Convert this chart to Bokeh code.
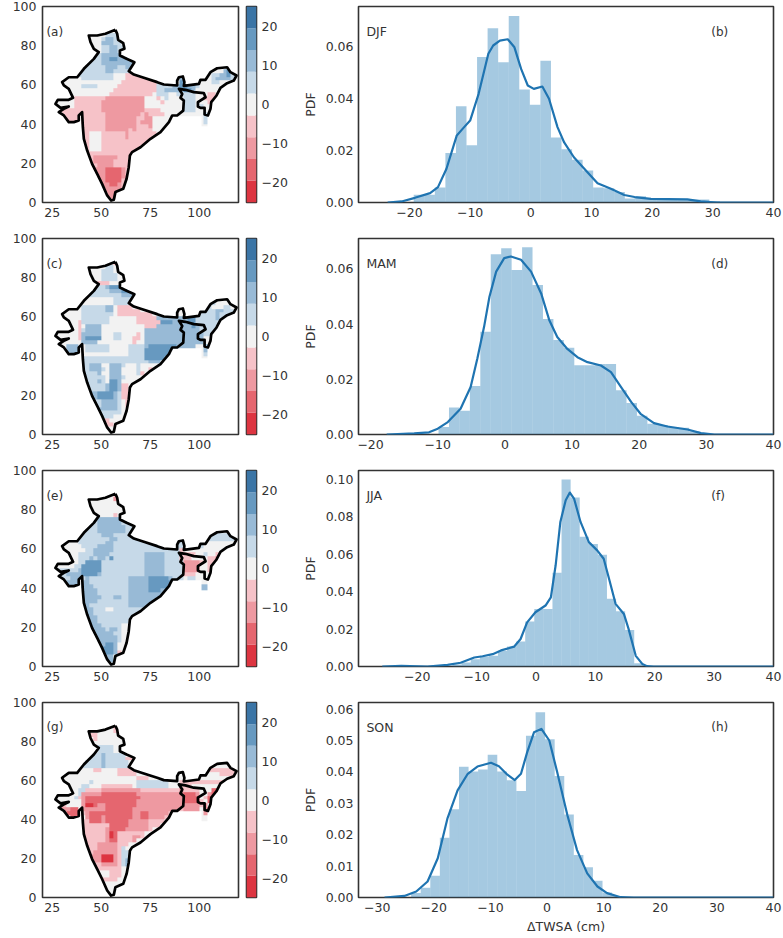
import numpy as np
from bokeh.plotting import figure
from bokeh.layouts import column, row
from bokeh.models import Range1d, FixedTicker, Label, LinearColorMapper, LinearAxis
from bokeh.embed import file_html
from bokeh.resources import INLINE

# ---- colour levels
LEVEL_EDGES = [-25, -19.44, -13.89, -8.33, -2.78, 2.78, 8.33, 13.89, 19.44, 25]
PALETTE = ["#dd3541", "#e5666f", "#ee99a1", "#f6c2c8", "#f2f2f2", "#c6d9e8", "#98bad6", "#6799c0", "#3b75a6"]
LEVEL_VALUE = {"d": -22.2, "c": -16.7, "b": -11.1, "a": -5.6, ".": 0, "1": 5.6, "2": 11.1, "3": 16.7, "4": 22.2}

# ---- country outline (x, y in axis units)
OUT_X = [57.2,58.1,58.6,61.2,61.8,59.5,59.5,62.9,66.9,64.0,66.6,71.7,78.5,81.9,88.7,88.7,89.6,91.6,92.4,92.1,99.8,100.6,103.2,105.7,109.1,114.2,115.9,119.0,117.6,114.2,110.8,108.8,106.1,105.7,104.4,102.7,102.7,100.6,99.3,99.3,103.2,102.3,97.2,92.9,89.6,91.3,90.4,92.1,91.8,88.7,86.2,84.5,80.2,75.1,70.0,65.7,64.6,64.0,62.9,61.2,57.2,56.4,55.0,53.0,50.4,47.9,45.3,42.8,41.1,40.6,40.2,38.5,38.5,36.0,33.4,30.9,28.3,30.9,33.4,29.2,26.6,27.8,33.4,35.6,33.4,30.9,30.0,33.4,37.7,41.1,46.2,48.7,46.2,44.5,43.6,47.9,52.1,57.2]
OUT_Y = [88.1,86.1,83.0,81.3,78.4,77.6,75.0,73.3,71.6,67.0,65.3,63.6,61.4,60.2,59.7,62.2,63.9,64.3,61.4,59.5,60.5,62.6,62.6,66.5,68.5,69.0,66.5,64.8,62.2,60.9,58.5,54.6,51.2,47.8,44.4,44.9,48.3,48.3,49.0,51.2,53.7,55.8,56.3,57.5,58.0,55.4,53.4,52.0,46.9,44.4,44.4,41.0,35.9,32.5,28.2,25.7,24.0,18.0,12.1,7.0,5.3,1.4,1.0,3.6,9.5,14.6,19.7,26.5,32.5,38.4,46.1,44.4,41.8,41.0,41.0,44.4,46.1,47.8,49.0,48.3,50.3,52.4,52.4,53.4,58.0,59.7,61.4,63.9,63.9,68.2,73.3,76.7,78.4,81.8,85.2,85.2,86.1,88.1]
# the gridded field also covers the area enclosed by the eastern loop of the outline
EXTRA_X = [89.6,92.9,97.2,102.3,103.2,99.3,99.3,100.6,102.7,102.7,104.0,104.0,101.5,101.5,92.0,88.7]
EXTRA_Y = [58.0,57.5,56.3,55.8,53.7,51.2,49.0,48.3,48.3,44.9,44.0,39.5,39.5,44.0,44.0,44.4]

# ---- seasonal maps: one text per 2-unit row from y=90 down, "col:level" starts a run
MAP_A = ["", "", "13:1 16:.", "12:1 13:2 15:1 16:.", "12:2 15:1 17:.", "12:1 14:2 16:1 18:.", "12:1 14:2 16:1 18:.",
 "11:1 12:2 17:1 18:.", "10:1 12:2 14:3 16:2 19:1", "8:1 12:2 20:1", "7:1 13:2 16:1 18:2 20:.", "6:1 13:2 15:1 20:. 43:2 44:3 45:1",
 "5:1 15:. 18:a 23:. 40:1 42:2 44:3 45:1", "7:1 15:. 18:a 24:. 32:2 33:. 40:1 41:2 45:1 46:.", "7:. 14:. 17:a 26:. 32:3 33:. 40:1 42:.",
 "7:1 11:. 16:a 26:1 30:2 32:3 34:2 36:1 37:.", "15:a 26:1 28:2 33:3 35:2 36:.", "14:a 25:. 26:1 29:. 31:1 36:. 39:a 41:.",
 "5:a 13:b 23:. 26:a 27:. 28:1 29:. 33:1 36:. 38:a 41:.", "5:a 12:b 23:. 27:a 28:. 33:1 36:. 39:a 40:.", "5:a 12:b 23:. 33:1 36:. 37:1 38:.",
 "1:a 12:b 23:a 27:. 33:1 36:.", "2:a 13:b 22:a 23:b 24:a 28:. 38:1 39:.", "2:a 13:b 21:a 23:b 25:. 38:1 39:.", "2:a 13:b 21:a 22:b 25:. 38:1 39:.",
 "7:a 13:b 21:a 24:b 25:.", "8:a 13:b 19:a 20:b 21:a 25:.", "8:a 9:. 12:a 18:b 19:a 26:.", "8:a 9:. 12:a 18:b 19:a 25:.", "8:a 9:. 12:a 24:.",
 "8:a 9:. 12:a 23:.", "8:a 9:. 12:a 22:.", "8:a 20:.", "9:a 10:b 16:a 20:.", "9:a 10:b 15:a", "10:a 11:b 15:a", "11:b 13:c 17:b 18:a",
 "11:b 13:c 17:b 18:a", "12:b 13:c 17:b", "12:b 13:c 17:a", "13:b 14:c 16:b 17:a", "13:b 17:a", "14:b 17:a", "14:b 17:a", "15:b"]
MAP_C = ["", "14:. 15:a 16:.", "13:1 15:. 16:a", "12:1 15:.", "12:1 16:.", "12:1 16:.", "10:. 11:a 14:.", "11:1 13:2 14:3 17:1 19:.",
 "9:1 14:2 17:3 19:2 20:1", "9:1 17:2 20:1", "8:. 15:1 20:.", "15:1 19:. 39:1 41:.", "7:1 13:2 15:. 16:a 20:. 38:1 40:. 43:1 45:.",
 "7:1 13:2 15:. 16:a 22:. 38:1 41:2 43:1", "7:1 15:. 16:a 25:. 33:2 34:1 38:1 41:2 42:1", "7:1 14:. 21:a 26:2 32:2 34:3 36:1 41:2 42:1 45:.",
 "6:a 7:1 14:. 21:a 27:3 30:2 33:2 34:3 36:1", "6:a 7:. 8:2 12:. 23:a 26:2 35:3 36:2 37:1", "6:a 7:1 8:2 12:. 23:2 37:1 41:.",
 "6:a 7:2 12:. 15:1 17:. 21:a 22:. 23:2 38:1 40:.", "6:a 7:2 8:3 12:. 15:1 17:. 20:a 22:. 23:2 38:.", "7:2 11:. 20:a 21:. 23:2 38:.",
 "3:2 6:. 8:1 14:. 19:1 23:2 24:3 31:2 36:. 38:2 40:.", "3:2 6:. 8:1 14:. 19:1 23:3 31:2 33:. 38:2", "4:2 6:. 11:. 19:1 23:3 29:2 30:. 38:1 39:.",
 "19:1 23:3 28:2 29:.", "19:1 24:2 27:.", "7:1 9:2 12:. 14:2 17:1 18:. 21:1 22:.", "8:1 9:2 12:1 13:. 14:2 17:. 21:1 22:. 24:a 25:.",
 "8:1 11:2 12:. 14:2 17:. 21:1 22:a 23:.", "8:1 13:. 14:2 17:1 18:.", "8:1 11:2 12:1 13:. 14:3 16:2 17:.", "9:1 13:2 14:3 16:2 17:a 19:.",
 "10:1 13:2 14:3 16:2 17:a 19:.", "10:2 11:3 15:2 16:1 17:a 19:.", "10:2 11:3 15:2 16:1 17:a 19:.", "11:1 12:2 16:1 17:. 18:a", "11:1 12:2 16:1 17:. 18:a",
 "12:2 16:1 17:.", "12:1 16:1 17:.", "13:1 15:.", "13:a 14:.", "14:a 15:.", "", ""]
MAP_E = ["", "15:a 16:.", "15:b 16:.", "", "", "", "15:a 16:.", "10:1 11:2 17:1 18:.", "10:1 11:2 17:1 19:.", "9:1 11:2 18:1 20:.", "8:1 11:2 18:1 20:.",
 "7:1 12:2 15:1", "6:1 14:2 16:1", "6:1 13:2 15:1 38:.", "7:1 11:2 15:1 38:.", "8:1 10:2 15:1 32:a 33:.", "6:1 10:2 14:1 23:2 28:1 32:a 36:. 38:1 39:. 41:a 44:.",
 "6:1 9:2 10:1 11:2 13:1 14:3 15:1 23:2 28:1 32:a 35:. 39:a 41:b 42:a 43:.", "6:1 8:3 12:1 23:2 28:1 33:b 37:a 38:. 39:a 41:b 42:.",
 "5:1 7:3 12:1 23:2 28:1 33:b 37:. 39:a 40:b 41:.", "1:1 6:2 7:3 12:1 23:2 28:1 33:b 37:. 39:a 40:.", "1:1 3:2 7:3 11:2 12:1 23:2 28:1 33:a 36:.",
 "2:1 4:2 7:1 8:2 9:1 19:2 24:3 29:2 30:1 33:. 34:1 36:.", "3:2 8:2 9:1 19:2 24:3 30:2 31:1 32:.", "3:2 8:2 10:1 19:2 24:3 30:2", "7:2 11:1 19:2 24:3 27:2",
 "7:2 11:1 19:2 26:2", "7:2 12:1 15:2 17:1 19:2", "7:2 11:1 19:2", "7:2 9:1 19:2", "8:2 10:1 13:. 15:1", "8:2 10:1", "8:2 11:1",
 "9:2 11:1 19:.", "9:2 12:1 17:.", "10:2 13:1 14:2 16:1 17:.", "10:2 15:1 17:.", "11:2 16:1 17:.", "12:2 16:1 17:.", "12:2 13:3 15:2 16:.", "13:3 15:2 16:.",
 "13:3 15:2 16:a 17:.", "14:2 15:. 16:a", "14:2 15:.", ""]
MAP_G = ["", "15:a 16:.", "15:a 16:.", "9:a 11:.", "10:a 11:.", "", "11:1 15:.", "11:1 15:.", "10:1 12:2 13:1 18:.", "9:1 12:2 13:1 18:a 20:.", "8:1 12:2 13:1 19:.",
 "7:1 12:2 13:1 19:.", "10:a 12:. 16:a", "16:a 21:. 42:a 46:.", "21:a 24:.", "9:1 10:. 21:1 29:. 32:a", "7:1 9:. 12:a 20:. 21:1 29:. 32:a 35:.",
 "6:1 8:a 12:b 22:a 32:b 33:a 37:. 40:c 42:.", "6:1 7:b 12:c 21:b 33:c 36:b 37:. 39:b 40:c 41:.", "5:1 6:a 7:b 8:c 22:b 33:c 37:. 38:a 39:c 40:.",
 "7:b 8:c 21:b 33:c 37:a 38:. 39:c 40:.", "1:a 3:. 7:b 8:d 10:c 11:b 13:c 21:b 37:a 38:b 39:.", "1:b 4:c 6:. 7:b 13:c 20:b 32:a 33:b 37:. 38:b 40:.",
 "3:c 6:. 7:a 8:b 9:c 13:c 20:b 22:c 24:b 29:a 30:. 38:b 39:.", "4:c 6:. 8:b 9:c 12:b 13:c 20:b 22:c 24:b 28:a 29:.", "7:a 9:c 12:b 13:c 19:b 24:a 28:.",
 "7:a 14:c 19:b 24:a 27:.", "7:a 13:b 14:c 18:b 24:a 25:.", "7:a 13:b 14:d 15:c 16:a 23:.", "7:a 13:b 14:d 15:c 16:a 20:b 22:a 23:.", "8:a 13:b 14:c 16:a 20:b 21:.",
 "8:a 11:b 16:a 19:.", "8:a 11:b 16:a 17:1 18:.", "9:a 10:b 16:a 17:1 19:.", "9:b 12:d 15:b 16:a 17:1 19:.", "10:b 12:d 15:b 16:a 17:1 18:2 19:.",
 "10:a 12:b 16:a 17:1 18:2 19:.", "11:a 17:.", "12:. 14:a 17:.", "13:. 14:a 17:.", "14:a 16:.", "", "", "", ""]

# ---- histograms and density curves
B_START, B_WIDTH = -19.3, 1.74
B_BARS = [.003,.003,.0058,.019,.037,.022,.056,.067,.054,.0717,.0435,.0376,.0545,.025,.0205,.0164,.0123,.0058,.0055,.004,.0015,.0024,.0013,.0011,.0011,.0012,.0012,.0012,.0005,.0002]
B_KX = [-23.6,-21.3,-19.1,-16.6,-15.3,-13.9,-12.2,-11.1,-10,-8.6,-7,-6.2,-5.1,-3.8,-2.7,-1.6,-.5,.5,1.9,3,4.4,5.5,7.1,9.3,11,13.2,15.4,17.1,19.8,22.5,25.8,28,30.7,40]
B_KY = [0,.0004,.0018,.0036,.0059,.013,.0258,.0287,.0315,.0418,.0572,.0604,.0623,.0628,.0597,.0514,.045,.0437,.0446,.0399,.029,.0231,.0174,.0117,.0074,.0053,.0029,.0021,.0014,.0013,.0012,.0004,0,0]
D_START, D_WIDTH = -9.88, 1.555
D_BARS = [.0027,.0098,.0086,.0176,.0372,.0653,.0675,.0596,.0678,.0542,.0418,.0342,.0314,.0251,.0251,.0255,.0255,.016,.0114,.0068,.0039,.0034,.0027,.0024,.0012,.0005]
D_KX = [-17.6,-13.5,-11.3,-10,-8.5,-6.6,-5.1,-4.1,-3.1,-2.3,-1.3,-.1,.9,2.4,3.9,5.4,6.6,7.8,9.3,10.8,12.3,14.3,15.8,17.3,18.8,20.2,22.2,24.2,27.2,29.2,31.2,40]
D_KY = [0,.0004,.0008,.0021,.0045,.0093,.0172,.0275,.039,.0499,.059,.0639,.0645,.0633,.059,.0511,.0415,.0353,.031,.028,.0262,.025,.0226,.0172,.0118,.0075,.0041,.0029,.0018,.0005,0,0]
F_START, F_WIDTH = -14.06, 1.53
F_BARS = [.0011,.0021,.0039,.0052,.0057,.0084,.0107,.0134,.024,.0308,.0308,.0501,.1,.0903,.0694,.0655,.0597,.0362,.0295,.0195,.0018,.0002]
F_KX = [-25.9,-22.7,-18.3,-14.9,-12.7,-10.4,-9,-7.3,-5.9,-3.7,-2.6,-1.5,-.1,1.6,2.5,3.3,4.1,5,5.7,6.4,7.5,8.9,10.3,11.4,12.3,13.4,14.8,15.6,16.8,17.9,18.7,19.8,40]
F_KY = [0,.0003,0,.0009,.002,.0048,.0055,.0066,.0086,.0106,.0147,.0236,.029,.0326,.037,.054,.0773,.0889,.093,.0898,.0773,.0665,.0621,.0576,.0469,.0335,.0281,.02,.0057,.0014,.0002,0,0]
H_START, H_WIDTH = -24.0, 1.69
H_BARS = [.0014,.0031,.0069,.019,.0281,.0416,.0401,.0408,.0455,.0401,.0373,.0339,.0515,.059,.0504,.0387,.0264,.0135,.0096,.0053,.0016,.0005]
H_KX = [-28.7,-25.2,-23.1,-21.1,-19.3,-17.6,-15.8,-14,-12.3,-9.9,-8.5,-7,-5.7,-4.6,-3.5,-2.3,-1,.4,1.8,3.6,5.3,7.1,8.9,10.6,13,15.3,40]
H_KY = [0,.0005,.0019,.0051,.0125,.0251,.0341,.0394,.0417,.0429,.0418,.0391,.0374,.0394,.0463,.0526,.0537,.05,.0399,.0262,.0151,.0077,.0035,.0014,.0001,0,0]

SEASONS = ["DJF", "MAM", "JJA", "SON"]
MAP_TAGS = ["(a)", "(c)", "(e)", "(g)"]
HIST_TAGS = ["(b)", "(d)", "(f)", "(h)"]
XLIMS = [(-28.4, 40), (-21.8, 40), (-29.9, 40), (-33.3, 40)]
YLIMS = [0.0754, 0.071, 0.1048, 0.0621]
XTICKS = [[-20,-10,0,10,20,30,40], [-20,-10,0,10,20,30,40], [-20,-10,0,10,20,30,40], [-30,-20,-10,0,10,20,30,40]]
YTICKS = [[0,.02,.04,.06], [0,.02,.04,.06], [0,.02,.04,.06,.08,.1], [0,.01,.02,.03,.04,.05,.06]]

FONT = "DejaVu Sans"
TXT = "#333333"
FS = "12.5px"
FRAME = "#333333"


def style(p):
    p.grid.visible = False
    p.outline_line_color = FRAME
    p.outline_line_width = 1.6
    p.background_fill_color = "white"
    p.border_fill_color = None
    for ax in list(p.xaxis) + list(p.yaxis):
        ax.axis_line_color = None
        ax.major_tick_line_color = None
        ax.minor_tick_line_color = None
        ax.major_tick_in = 0
        ax.major_tick_out = 0
        ax.major_label_text_font = FONT
        ax.major_label_text_font_size = FS
        ax.major_label_text_color = TXT
        ax.axis_label_text_font = FONT
        ax.axis_label_text_font_size = FS
        ax.axis_label_text_font_style = "normal"
        ax.axis_label_text_color = TXT
        ax.major_label_standoff = 5


def minus(v):
    return str(v).replace("-", "\u2212")


def inside(px, py, vx, vy):
    hit = np.zeros(px.shape, dtype=bool)
    n = len(vx)
    j = n - 1
    for i in range(n):
        c = ((vy[i] > py) != (vy[j] > py)) & (px < (vx[j] - vx[i]) * (py - vy[i]) / (vy[j] - vy[i] + 1e-12) + vx[i])
        hit ^= c
        j = i
    return hit


def grid_of(rows):
    arr = np.zeros((90, 94))
    for r in range(45):
        text = rows[r] if r < len(rows) else ""
        vals = np.zeros(47)
        toks = text.split()
        if r >= 25 and toks:
            vals[:] = LEVEL_VALUE[toks[0].split(":")[1]]
        for tok in toks:
            c, v = tok.split(":")
            vals[int(c):] = LEVEL_VALUE[v]
        y0 = 88 - 2 * r
        arr[y0:y0 + 2, :] = np.repeat(vals, 2)
    xs, ys = np.meshgrid(26.5 + np.arange(94), 0.5 + np.arange(90))
    keep = inside(xs, ys, np.array(OUT_X), np.array(OUT_Y)) | inside(xs, ys, np.array(EXTRA_X), np.array(EXTRA_Y))
    arr[~keep] = np.nan
    return arr


mapper = LinearColorMapper(palette=PALETTE, low=-25, high=25, nan_color="rgba(255,255,255,0)")


def borders(i):
    top = 6 if i == 0 else 8
    bottom = 38 if i == 3 else 28
    return top, bottom, top + 196 + bottom


def map_panel(rows, tag, i):
    top, bottom, h = borders(i)
    p = figure(width=242, height=h, min_border_left=42, min_border_right=4, min_border_top=top,
               min_border_bottom=bottom, x_range=Range1d(20, 120), y_range=Range1d(0, 100),
               output_backend="svg", toolbar_location=None)
    p.image(image=[grid_of(rows)], x=26, y=0, dw=94, dh=90, color_mapper=mapper)
    p.line(OUT_X, OUT_Y, line_color="black", line_width=2.7, line_join="round")
    style(p)
    p.xaxis.ticker = FixedTicker(ticks=[25, 50, 75, 100])
    p.yaxis.ticker = FixedTicker(ticks=[0, 20, 40, 60, 80, 100])
    p.yaxis.major_label_standoff = 6
    p.add_layout(Label(x=22.0, y=87.2, text=tag, text_font=FONT, text_font_size="12px", text_color=TXT, text_baseline="middle"))
    return p


def colorbar_panel(i):
    top, bottom, h = borders(i)
    p = figure(width=57, height=h, min_border_left=4, min_border_right=43, min_border_top=top,
               min_border_bottom=bottom, x_range=Range1d(0, 1), y_range=Range1d(-25, 25),
               output_backend="svg", toolbar_location=None)
    p.quad(left=0, right=1, bottom=LEVEL_EDGES[:-1], top=LEVEL_EDGES[1:], fill_color=PALETTE, line_color=None)
    style(p)
    p.xaxis.visible = False
    p.yaxis.visible = False
    right = LinearAxis(ticker=FixedTicker(ticks=[-20, -10, 0, 10, 20]),
                       major_label_overrides={t: minus(t) for t in [-20, -10, 0, 10, 20]},
                       axis_line_color=None, major_tick_line_color=None, minor_tick_line_color=None,
                       major_tick_in=0, major_tick_out=0, major_label_standoff=5,
                       major_label_text_font=FONT, major_label_text_font_size=FS, major_label_text_color=TXT)
    p.add_layout(right, "right")
    p.min_border_right = 43
    return p


def hist_panel(i, start, width, bars, kx, ky):
    top, bottom, h = borders(i)
    x0, x1 = XLIMS[i]
    p = figure(width=484, height=h, min_border_left=58, min_border_right=10, min_border_top=top,
               min_border_bottom=bottom, x_range=Range1d(x0, x1), y_range=Range1d(0, YLIMS[i]),
               output_backend="svg", toolbar_location=None)
    left = start + width * np.arange(len(bars))
    p.quad(left=left, right=left + width, bottom=0, top=bars, fill_color="#1f77b4", fill_alpha=0.4, line_color=None)
    p.line(kx, ky, line_color="#1f74b1", line_width=2.2, line_join="round")
    style(p)
    p.xaxis.ticker = FixedTicker(ticks=XTICKS[i])
    p.xaxis.major_label_overrides = {t: minus(t) for t in XTICKS[i]}
    p.yaxis.ticker = FixedTicker(ticks=YTICKS[i])
    p.yaxis.major_label_overrides = {t: f"{t:.2f}" for t in YTICKS[i]}
    p.yaxis.axis_label = "PDF"
    p.yaxis.axis_label_standoff = 5
    if i == 3:
        p.xaxis.axis_label = "\u0394TWSA (cm)"
        p.xaxis.axis_label_standoff = 4
    y = YLIMS[i] * 0.872
    for frac, t in ((0.019, SEASONS[i]), (0.85, HIST_TAGS[i])):
        p.add_layout(Label(x=x0 + frac * (x1 - x0), y=y, text=t, text_font=FONT, text_font_size="12.5px" if frac < .5 else "12px",
                           text_color=TXT, text_baseline="middle"))
    return p


maps = [MAP_A, MAP_C, MAP_E, MAP_G]
hists = [(B_START, B_WIDTH, B_BARS, B_KX, B_KY), (D_START, D_WIDTH, D_BARS, D_KX, D_KY),
         (F_START, F_WIDTH, F_BARS, F_KX, F_KY), (H_START, H_WIDTH, H_BARS, H_KX, H_KY)]
rows = []
for i in range(4):
    rows.append(row(map_panel(maps[i], MAP_TAGS[i], i), colorbar_panel(i), hist_panel(i, *hists[i])))
root = column(*rows, styles={"position": "absolute", "left": "0px", "top": "0px"})
open("out.html", "w").write(file_html(root, INLINE))
